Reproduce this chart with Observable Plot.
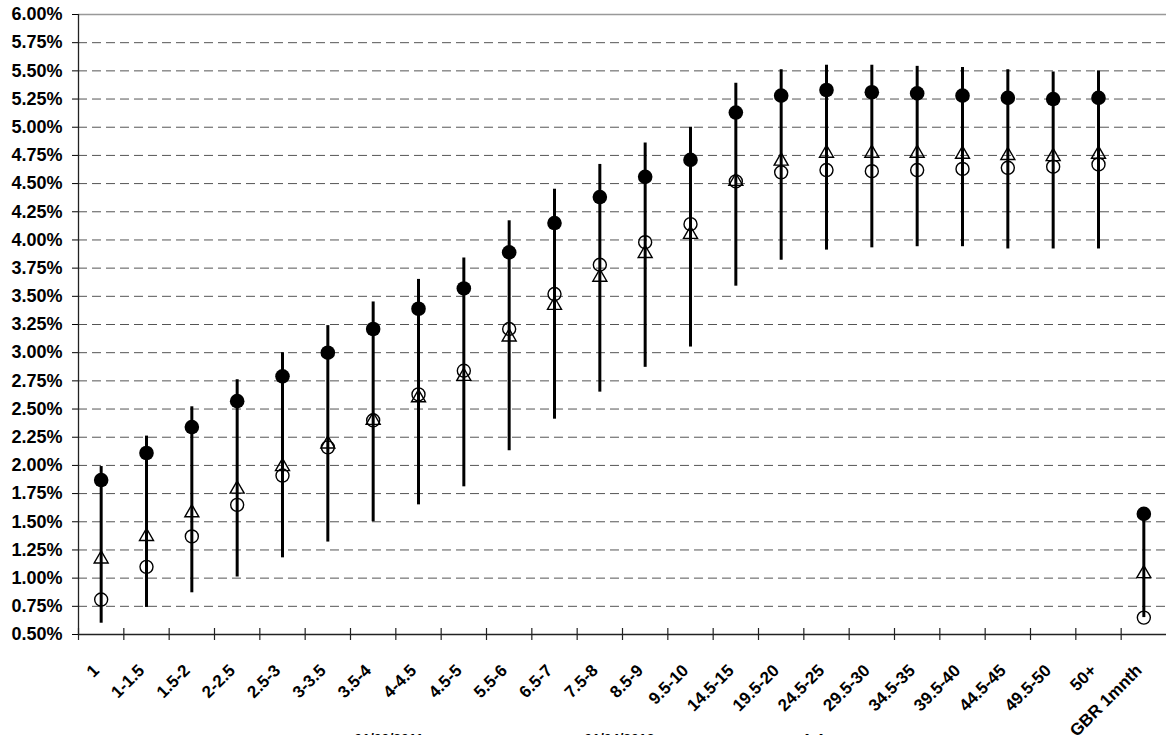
<!DOCTYPE html>
<html><head><meta charset="utf-8">
<script src="https://cdn.jsdelivr.net/npm/d3@7"></script>
<script src="https://cdn.jsdelivr.net/npm/@observablehq/plot@0.6"></script>
<style>
body{margin:0;background:#fff;font-family:"Liberation Sans",Arial,sans-serif;}
#legend{position:relative;height:24px;margin-top:11px;font-weight:bold;font-size:14px;line-height:16px;color:#000;}
#legend span{position:absolute;top:0;white-space:nowrap}
</style></head><body>
<div id="chart"></div>
<div id="legend"></div>
<script>
const categories = ["1","1-1.5","1.5-2","2-2.5","2.5-3","3-3.5","3.5-4","4-4.5","4.5-5","5.5-6","6.5-7","7.5-8","8.5-9","9.5-10","14.5-15","19.5-20","24.5-25","29.5-30","34.5-35","39.5-40","44.5-45","49.5-50","50+","GBR 1mnth"];
const rangeHigh = [1.99,2.26,2.52,2.76,3.00,3.24,3.45,3.65,3.84,4.17,4.45,4.67,4.86,5.00,5.39,5.51,5.55,5.55,5.54,5.53,5.51,5.49,5.50,1.57];
const rangeLow  = [0.60,0.74,0.87,1.01,1.18,1.32,1.50,1.65,1.81,2.13,2.41,2.65,2.87,3.05,3.59,3.82,3.91,3.93,3.94,3.94,3.92,3.92,3.92,0.65];
const seriesFilled = [1.87,2.11,2.34,2.57,2.79,3.00,3.21,3.39,3.57,3.89,4.15,4.38,4.56,4.71,5.13,5.28,5.33,5.31,5.30,5.28,5.26,5.25,5.26,1.57];
const seriesOpen   = [0.81,1.10,1.37,1.65,1.91,2.16,2.40,2.63,2.84,3.21,3.52,3.78,3.98,4.14,4.52,4.60,4.62,4.61,4.62,4.63,4.64,4.65,4.67,0.65];
const seriesTri    = [1.17,1.37,1.58,1.79,1.99,2.19,2.40,2.60,2.79,3.14,3.42,3.67,3.88,4.05,4.52,4.70,4.77,4.77,4.77,4.76,4.75,4.74,4.76,1.04];
const yTicks = [0.50,0.75,1.00,1.25,1.50,1.75,2.00,2.25,2.50,2.75,3.00,3.25,3.50,3.75,4.00,4.25,4.50,4.75,5.00,5.25,5.50,5.75,6.00];
const gridTicks = [0.75,1.00,1.25,1.50,1.75,2.00,2.25,2.50,2.75,3.00,3.25,3.50,3.75,4.00,4.25,4.50,4.75,5.00,5.25,5.50,5.75];
const legendItems = [{sym:"●", label:"01/09/2011"},{sym:"○", label:"01/04/2012"},{sym:"Δ", label:"Average"}];

const W = 1166, H = 720, ML = 78, MR = 0, MT = 14, MB = 86;
const bw = (W - ML - MR) / categories.length;
const data = categories.map((c, i) => ({c, high: rangeHigh[i], low: rangeLow[i], a: seriesFilled[i], b: seriesOpen[i], t: seriesTri[i]}));

const plot = Plot.plot({
  width: W, height: H, marginLeft: ML, marginRight: MR, marginTop: MT, marginBottom: MB,
  style: {fontFamily: "Liberation Sans, Arial, sans-serif", fontSize: "18px", fontWeight: "bold", background: "#fff", overflow: "visible", color: "#000"},
  x: {type: "band", domain: categories, padding: 0, round: false, axis: null},
  y: {domain: [0.5, 6], ticks: yTicks, tickFormat: d => d.toFixed(2) + "%", tickSize: 6, tickPadding: 10, label: null},
  marks: [
    Plot.ruleY(gridTicks, {y: d => d, stroke: "#555", strokeDasharray: "9,5", strokeWidth: 1, strokeOpacity: 1}),
    Plot.ruleY([6.0], {y: d => d, stroke: "#999", strokeWidth: 1.3}),
    Plot.ruleY([0.5], {y: d => d, stroke: "#222", strokeWidth: 1.3}),
    Plot.ruleX([categories[0]], {x: d => d, y1: 0.5, y2: 6, dx: -bw / 2, stroke: "#222", strokeWidth: 1.3}),
    Plot.ruleX(categories, {x: d => d, y1: 0.5, y2: 0.5, insetTop: -6, insetBottom: -6, dx: -bw / 2, stroke: "#222", strokeWidth: 1.2}),
    Plot.ruleX(data, {x: "c", y1: "low", y2: "high", stroke: "#000", strokeWidth: 3}),
    Plot.dot(data, {x: "c", y: "t", symbol: "triangle", r: 5.2, stroke: "#000", fill: "none", strokeWidth: 1.4}),
    Plot.dot(data, {x: "c", y: "b", r: 6.5, stroke: "#000", fill: "none", strokeWidth: 1.4}),
    Plot.dot(data, {x: "c", y: "a", r: 7.3, fill: "#000", stroke: "none"}),
    Plot.text(data, {x: "c", y: d => 0.5, text: "c", rotate: -45, textAnchor: "end", lineAnchor: "bottom", dy: 37, dx: -1, fontSize: 17, fontWeight: "bold", fill: "#000"})
  ]
});
document.getElementById("chart").appendChild(plot);

const lg = document.getElementById("legend");
const lx = [342, 572, 802];
legendItems.forEach((it, i) => {
  const s = document.createElement("span");
  s.style.left = lx[i] + "px";
  s.textContent = it.sym + " " + it.label;
  lg.appendChild(s);
});
</script>
</body></html>
